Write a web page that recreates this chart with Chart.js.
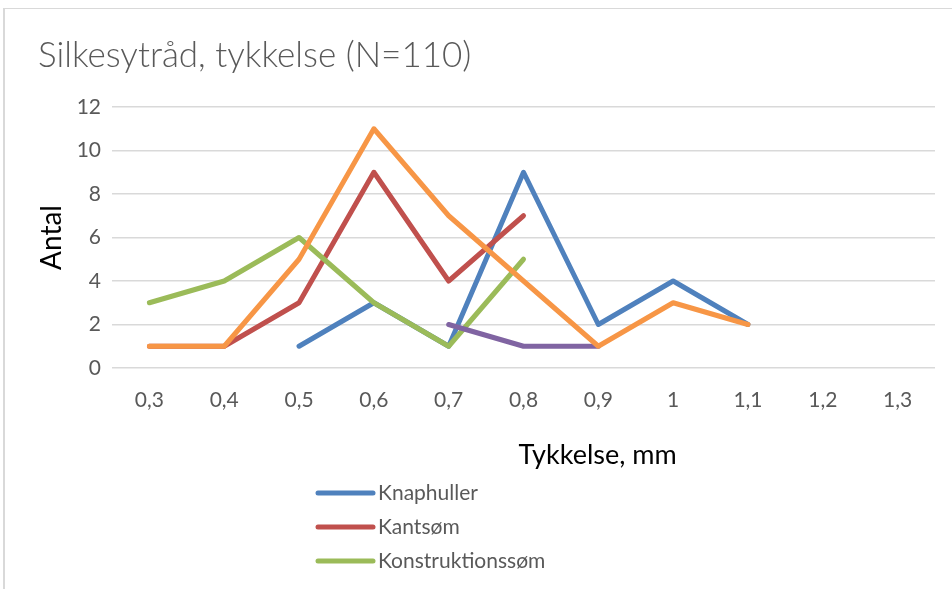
<!DOCTYPE html>
<html>
<head>
<meta charset="utf-8">
<script src="https://cdn.jsdelivr.net/npm/chart.js@4/dist/chart.umd.min.js"></script>
<style>
  html, body { margin: 0; padding: 0; background: #ffffff; overflow: hidden; }
  #wrap { position: relative; width: 952px; height: 589px; }
</style>
</head>
<body>
<div id="wrap"><canvas id="c" width="952" height="589"></canvas></div>
<script>
// ---- data ----
const categories = ['0,3', '0,4', '0,5', '0,6', '0,7', '0,8', '0,9', '1', '1,1', '1,2', '1,3'];
const knaphuller = [null, null, 1, 3, 1, 9, 2, 4, 2, null, null];
const kantsom = [1, 1, 3, 9, 4, 7, null, null, null, null, null];
const konstruktionssom = [3, 4, 6, 3, 1, 5, null, null, null, null, null];
const serie4 = [null, null, null, null, 2, 1, 1, null, null, null, null];
const serie6 = [1, 1, 5, 11, 7, 4, 1, 3, 2, null, null];
const seriesNames = ['Knaphuller', 'Kantsøm', 'Konstruktionssøm', 'Serie4', 'Serie6'];
const seriesColors = ['#4F81BD', '#C0504D', '#9BBB59', '#8064A2', '#F79646'];
const yTicks = [0, 2, 4, 6, 8, 10, 12];
const chartTitle = 'Silkesytråd, tykkelse (N=110)';
const xTitle = 'Tykkelse, mm';
const yTitle = 'Antal';

const FONT = 'Lato, "Open Sans", sans-serif';
const allSeries = [knaphuller, kantsom, konstruktionssom, serie4, serie6];
const datasets = allSeries.map((d, i) => ({
  label: seriesNames[i],
  data: d,
  borderColor: seriesColors[i],
  backgroundColor: seriesColors[i],
  borderWidth: 5,
  borderCapStyle: 'round',
  borderJoinStyle: 'round',
  pointRadius: 0,
  pointHoverRadius: 0,
  tension: 0,
  fill: false,
  spanGaps: false,
  order: allSeries.length - i
}));

const decor = {
  id: 'decor',
  beforeDraw(chart) {
    const ctx = chart.ctx;
    ctx.save();
    ctx.fillStyle = '#D9D9D9';
    ctx.fillRect(3, 8, 2, chart.height);
    ctx.fillRect(3, 8, chart.width, 1);
    ctx.restore();
  },
  afterDraw(chart) {
    const ctx = chart.ctx;
    const a = chart.chartArea;
    ctx.save();
    // x axis title
    ctx.fillStyle = '#000000';
    ctx.font = '27px ' + FONT;
    ctx.textAlign = 'center';
    ctx.textBaseline = 'middle';
    ctx.fillText(xTitle, a.left + (a.right - a.left) * 0.59, a.bottom + 87);
    // legend (vertical list; entries below the visible frame are cut off)
    ctx.font = '21px ' + FONT;
    ctx.textAlign = 'left';
    chart.data.datasets.forEach((ds, i) => {
      const y = a.bottom + 125 + i * 34;
      if (y + 10 > chart.height) return;
      const x0 = a.left + 206;
      ctx.strokeStyle = ds.borderColor;
      ctx.lineWidth = 5;
      ctx.lineCap = 'round';
      ctx.beginPath();
      ctx.moveTo(x0, y);
      ctx.lineTo(x0 + 55, y);
      ctx.stroke();
      ctx.fillStyle = '#595959';
      ctx.fillText(ds.label, x0 + 60, y);
    });
    ctx.restore();
  }
};

new Chart(document.getElementById('c'), {
  type: 'line',
  data: { labels: categories, datasets: datasets },
  options: {
    responsive: false,
    animation: false,
    events: [],
    layout: { padding: { left: 38, right: 17, top: 8, bottom: 161 } },
    plugins: {
      legend: { display: false },
      tooltip: { enabled: false },
      title: {
        display: true,
        text: chartTitle,
        align: 'start',
        color: '#595959',
        font: { family: FONT, size: 35, weight: '300' },
        padding: { top: 27, bottom: 30 }
      }
    },
    scales: {
      x: {
        offset: true,
        grid: { display: false, drawTicks: false },
        border: { display: false },
        ticks: { color: '#595959', font: { family: FONT, size: 21 }, padding: 20, maxRotation: 0, autoSkip: false },
        afterFit(s) { s.height = 60; }
      },
      y: {
        min: 0,
        max: 12,
        afterBuildTicks(s) { s.ticks = yTicks.map(v => ({ value: v })); },
        grid: { color: '#D9D9D9', lineWidth: 1.5, drawTicks: false },
        border: { display: false },
        ticks: { color: '#595959', font: { family: FONT, size: 21 }, padding: 11 },
        title: { display: true, text: yTitle, color: '#000000', font: { family: FONT, size: 28, lineHeight: 1 }, padding: { top: 0, bottom: 0 } },
        afterFit(s) { s.width = 74; }
      }
    }
  },
  plugins: [decor]
});
</script>
</body>
</html>
